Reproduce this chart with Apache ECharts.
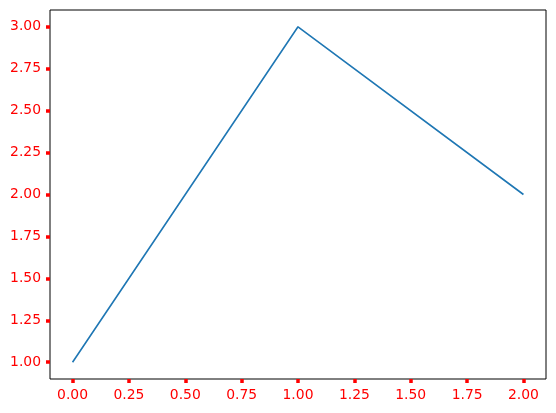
<!DOCTYPE html>
<html><head><meta charset="utf-8">
<script src="https://cdn.jsdelivr.net/npm/echarts@6/dist/echarts.min.js"></script>
<style>html,body{margin:0;padding:0;background:#fff}#c{width:556px;height:413px}</style>
</head><body><div id="c"></div>
<script>
const xValues = [0, 1, 2];
const yValues = [1, 3, 2];
const xTicks = [0, 0.25, 0.5, 0.75, 1, 1.25, 1.5, 1.75, 2];
const yTicks = [1, 1.25, 1.5, 1.75, 2, 2.25, 2.5, 2.75, 3];

const chart = echarts.init(document.getElementById('c'));
chart.setOption({
  animation: false,
  grid: {left: 50, right: 10, top: 10, bottom: 34, show: true, borderColor: '#000', borderWidth: 1, backgroundColor: 'transparent'},
  xAxis: {
    type: 'value', min: -0.1, max: 2.1,
    axisLine: {show: false, onZero: false},
    splitLine: {show: false},
    axisTick: {show: true, length: 4, lineStyle: {color: '#ff0000', width: 3.5}, customValues: xTicks},
    axisLabel: {color: '#ff0000', fontSize: 13.9, fontFamily: 'DejaVu Sans', margin: 9, customValues: xTicks, formatter: v => v.toFixed(2)}
  },
  yAxis: {
    type: 'value', min: 0.9, max: 3.1,
    axisLine: {show: false, onZero: false},
    splitLine: {show: false},
    axisTick: {show: true, length: 4, lineStyle: {color: '#ff0000', width: 3.5}, customValues: yTicks},
    axisLabel: {color: '#ff0000', fontSize: 13.9, fontFamily: 'DejaVu Sans', margin: 9, customValues: yTicks, formatter: v => v.toFixed(2)}
  },
  series: [{
    type: 'line',
    data: xValues.map((x, i) => [x, yValues[i]]),
    showSymbol: false,
    lineStyle: {color: '#1f77b4', width: 1.6},
    itemStyle: {color: '#1f77b4'}
  }]
});
</script></body></html>
